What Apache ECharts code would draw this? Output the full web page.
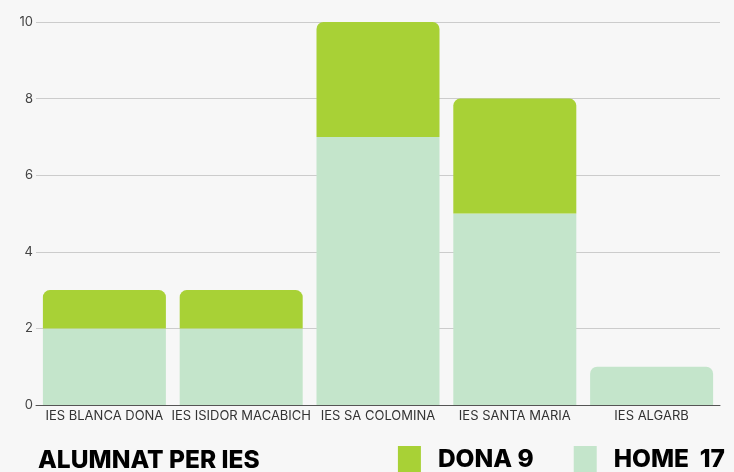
<!DOCTYPE html>
<html>
<head>
<meta charset="utf-8">
<script src="https://cdn.jsdelivr.net/npm/echarts@6/dist/echarts.min.js"></script>
<style>
  html, body { margin: 0; padding: 0; background: #f7f7f7; }
  #main { width: 734px; height: 472px; }
</style>
</head>
<body>
<div id="main"></div>
<script>
var categories = ['IES BLANCA DONA', 'IES ISIDOR MACABICH', 'IES SA COLOMINA', 'IES SANTA MARIA', 'IES ALGARB'];
var home = [2, 2, 7, 5, 1];
var dona = [1, 1, 3, 3, 0];
// totals printed in the legend, as shown on the source chart
var legendNames = ['DONA', 'HOME'];
var legendTotals = [9, 17];

// rounded top only on the highest visible piece of each stack
var homeData = home.map(function (v, i) {
    return dona[i] === 0 ? { value: v, itemStyle: { borderRadius: [7, 7, 0, 0] } } : v;
});

var chart = echarts.init(document.getElementById('main'));
var font = 'Inter, "Noto Sans", sans-serif';

chart.setOption({
    backgroundColor: '#f7f7f7',
    animation: false,
    title: {
        text: 'ALUMNAT PER IES',
        left: 33,
        bottom: -6,
        textStyle: { fontFamily: font, fontSize: 24.5, fontWeight: 800, color: '#000' }
    },
    legend: {
        data: legendNames,
        right: 4,
        bottom: -7,
        itemWidth: 23,
        itemHeight: 28,
        itemGap: 40,
        icon: 'rect',
        formatter: function (name) {
            var t = legendTotals[legendNames.indexOf(name)];
            return name === 'HOME' ? name + '  ' + t : name + ' ' + t;
        },
        textStyle: { fontFamily: font, fontSize: 24.5, fontWeight: 800, color: '#000', padding: [0, 0, 0, 12] }
    },
    grid: { left: 36, right: 14, top: 22, bottom: 67 },
    xAxis: {
        type: 'category',
        data: categories,
        axisTick: { show: false },
        axisLine: { lineStyle: { color: '#555' } },
        axisLabel: { color: '#333', fontFamily: font, fontSize: 13, margin: 5, interval: 0 }
    },
    yAxis: {
        type: 'value',
        min: 0,
        max: 10,
        interval: 2,
        axisLabel: { color: '#444', fontFamily: font, fontSize: 13, margin: 3 },
        splitLine: { lineStyle: { color: '#cccccc' } }
    },
    series: [{
        name: 'HOME',
        type: 'bar',
        stack: 'total',
        barWidth: 123,
        itemStyle: { color: '#c4e5cb' },
        data: homeData
    }, {
        name: 'DONA',
        type: 'bar',
        stack: 'total',
        barWidth: 123,
        itemStyle: { color: '#a8d136', borderRadius: [7, 7, 0, 0] },
        data: dona
    }]
});
</script>
</body>
</html>
